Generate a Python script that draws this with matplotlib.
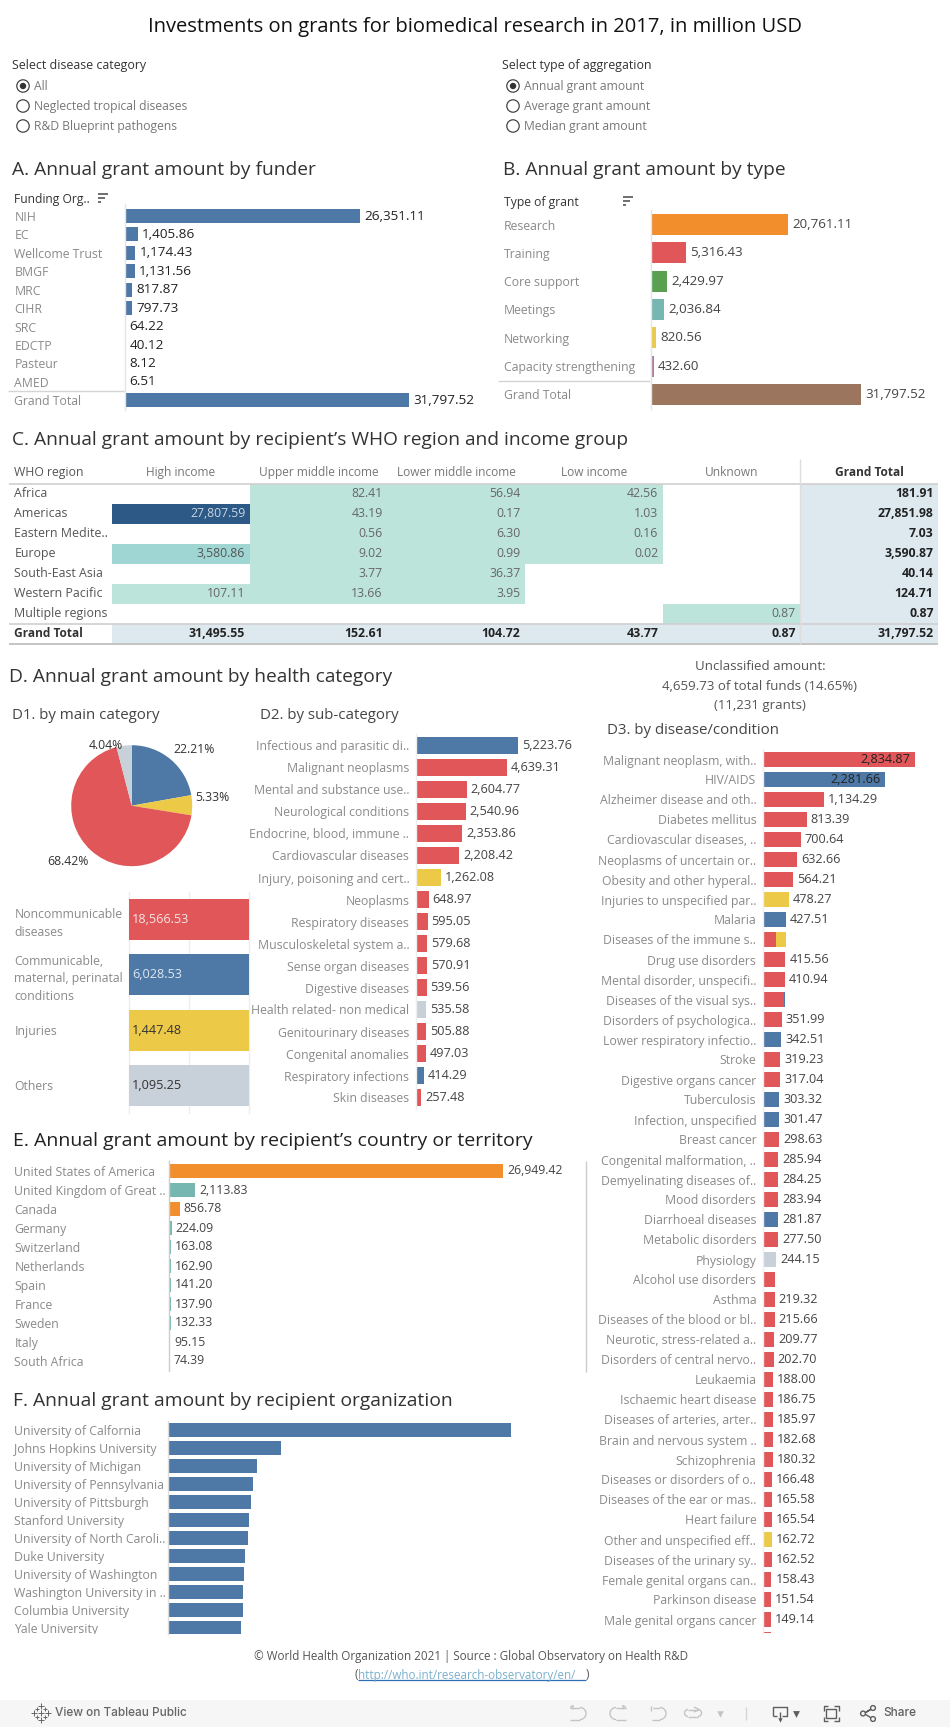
import numpy as np
import matplotlib
matplotlib.use("Agg")
import matplotlib.pyplot as plt
from matplotlib.patches import Circle, Rectangle
from matplotlib.transforms import Bbox

plt.rcParams['font.family'] = ['Open Sans', 'DejaVu Sans']

W, H = 950, 1727
BLUE, RED, YEL, GRY = '#4e79a7', '#e15759', '#edc948', '#c8d0d9'
ORG, TEAL, GRN, PUR, BRN = '#f28e2b', '#76b7b2', '#59a14f', '#b07aa1', '#9c755f'
LAB, DARK, VAL = '#8a8a8a', '#333333', '#444444'
FS = 8.8
PT = 0.72

funders = ['NIH', 'EC', 'Wellcome Trust', 'BMGF', 'MRC', 'CIHR', 'SRC', 'EDCTP', 'Pasteur', 'AMED', 'Grand Total']
funder_vals = [26351.11, 1405.86, 1174.43, 1131.56, 817.87, 797.73, 64.22, 40.12, 8.12, 6.51, 31797.52]

types = ['Research', 'Training', 'Core support', 'Meetings', 'Networking', 'Capacity strengthening', 'Grand Total']
type_vals = [20761.11, 5316.43, 2429.97, 2036.84, 820.56, 432.60, 31797.52]
type_cols = [ORG, RED, GRN, TEAL, YEL, PUR, BRN]

regions = ['Africa', 'Americas', 'Eastern Medite..', 'Europe', 'South-East Asia', 'Western Pacific', 'Multiple regions', 'Grand Total']
incomes = ['High income', 'Upper middle income', 'Lower middle income', 'Low income', 'Unknown', 'Grand Total']
high_inc = [None, 27807.59, None, 3580.86, None, 107.11, None, 31495.55]
upper_inc = [82.41, 43.19, 0.56, 9.02, 3.77, 13.66, None, 152.61]
lower_inc = [56.94, 0.17, 6.30, 0.99, 36.37, 3.95, None, 104.72]
low_inc = [42.56, 1.03, 0.16, 0.02, None, None, None, 43.77]
unk_inc = [None, None, None, None, None, None, 0.87, 0.87]
tot_inc = [181.91, 27851.98, 7.03, 3590.87, 40.14, 124.71, 0.87, 31797.52]

pie_pcts = [22.21, 5.33, 68.42, 4.04]
pie_cols = [BLUE, YEL, RED, GRY]
main_cats = ['Noncommunicable\ndiseases', 'Communicable,\nmaternal, perinatal\nconditions', 'Injuries', 'Others']
main_vals = [18566.53, 6028.53, 1447.48, 1095.25]
main_cols = [RED, BLUE, YEL, GRY]
main_txt = ['#f4e6e6', '#dfe7f0', DARK, DARK]

sub_cats = ['Infectious and parasitic di..', 'Malignant neoplasms', 'Mental and substance use..', 'Neurological conditions',
            'Endocrine, blood, immune ..', 'Cardiovascular diseases', 'Injury, poisoning and cert..', 'Neoplasms',
            'Respiratory diseases', 'Musculoskeletal system a..', 'Sense organ diseases', 'Digestive diseases',
            'Health related- non medical', 'Genitourinary diseases', 'Congenital anomalies', 'Respiratory infections', 'Skin diseases']
sub_vals = [5223.76, 4639.31, 2604.77, 2540.96, 2353.86, 2208.42, 1262.08, 648.97, 595.05, 579.68, 570.91, 539.56, 535.58, 505.88, 497.03, 414.29, 257.48]
sub_cols = [BLUE, RED, RED, RED, RED, RED, YEL, RED, RED, RED, RED, RED, GRY, RED, RED, BLUE, RED]

dis_cats = ['Malignant neoplasm, with..', 'HIV/AIDS', 'Alzheimer disease and oth..', 'Diabetes mellitus',
            'Cardiovascular diseases, ..', 'Neoplasms of uncertain or..', 'Obesity and other hyperal..', 'Injuries to unspecified par..',
            'Malaria', 'Diseases of the immune s..', 'Drug use disorders', 'Mental disorder, unspecifi..',
            'Diseases of the visual sys..', 'Disorders of psychologica..', 'Lower respiratory infectio..', 'Stroke',
            'Digestive organs cancer', 'Tuberculosis', 'Infection, unspecified', 'Breast cancer',
            'Congenital malformation, ..', 'Demyelinating diseases of..', 'Mood disorders', 'Diarrhoeal diseases',
            'Metabolic disorders', 'Physiology', 'Alcohol use disorders', 'Asthma',
            'Diseases of the blood or bl..', 'Neurotic, stress-related a..', 'Disorders of central nervo..', 'Leukaemia',
            'Ischaemic heart disease', 'Diseases of arteries, arter..', 'Brain and nervous system ..', 'Schizophrenia',
            'Diseases or disorders of o..', 'Diseases of the ear or mas..', 'Heart failure', 'Other and unspecified eff..',
            'Diseases of the urinary sy..', 'Female genital organs can..', 'Parkinson disease', 'Male genital organs cancer', '']
dis_vals = [2834.87, 2281.66, 1134.29, 813.39, 700.64, 632.66, 564.21, 478.27, 427.51, 245.0, 415.56, 410.94, 392.0, 351.99,
            342.51, 319.23, 317.04, 303.32, 301.47, 298.63, 285.94, 284.25, 283.94, 281.87, 277.50, 244.15, 232.0, 219.32,
            215.66, 209.77, 202.70, 188.00, 186.75, 185.97, 182.68, 180.32, 166.48, 165.58, 165.54, 162.72, 162.52, 158.43,
            151.54, 149.14, 146.0]
dis_cols = [RED, BLUE, RED, RED, RED, RED, RED, YEL, BLUE, RED, RED, RED, RED, RED, BLUE, RED, RED, BLUE, BLUE, RED,
            RED, RED, RED, BLUE, RED, GRY, RED, RED, RED, RED, RED, RED, RED, RED, RED, RED, RED, RED, RED, YEL, RED, RED, RED, RED, RED]
dis_stack = {'Diseases of the immune s..': (177.0, YEL), 'Diseases of the visual sys..': (24.0, BLUE)}
dis_nolabel = ['Diseases of the immune s..', 'Diseases of the visual sys..', 'Alcohol use disorders']

countries = ['United States of America', 'United Kingdom of Great ..', 'Canada', 'Germany', 'Switzerland', 'Netherlands',
             'Spain', 'France', 'Sweden', 'Italy', 'South Africa']
country_vals = [26949.42, 2113.83, 856.78, 224.09, 163.08, 162.90, 141.20, 137.90, 132.33, 95.15, 74.39]
country_cols = [ORG, TEAL, ORG, TEAL, TEAL, TEAL, TEAL, TEAL, TEAL, TEAL, TEAL]

orgs = ['University of Calfornia', 'Johns Hopkins University', 'University of Michigan', 'University of Pennsylvania',
        'University of Pittsburgh', 'Stanford University', 'University of North Caroli..', 'Duke University',
        'University of Washington', 'Washington University in ..', 'Columbia University', 'Yale University']
org_vals = [1372, 452, 357, 340, 333, 325, 321, 309, 304, 301, 301, 292]

fig = plt.figure(figsize=(W / 100, H / 100), dpi=100, facecolor='white')
ov = fig.add_axes([0, 0, 1, 1], zorder=10)
ov.set_xlim(0, W)
ov.set_ylim(H, 0)
ov.axis('off')
ov.patch.set_alpha(0)


def T(x, y, s, size=FS, color=LAB, ha='left', va='center', **kw):
    return ov.text(x, y, s, fontsize=size, color=color, ha=ha, va=va, **kw)


def L(xs, ys, color='#dddddd', lw=1.0, **kw):
    ov.plot(xs, ys, color=color, lw=lw, solid_capstyle='butt', **kw)


def px_ax(x0, x1, y0, y1):
    return fig.add_axes([x0 / W, 1 - y1 / H, (x1 - x0) / W, (y1 - y0) / H], facecolor='none')


def bars(x0, x_end, xmax, y_first, step, cats, vals, cols, frac, lab_x=None, lab_right=None, val_color=VAL,
         val_size=FS, y_end=None, labels=True, min_px=0.0, skip=(), spine='#e4e4e4', spine_top=None):
    n = len(cats)
    top = y_first - step / 2 if spine_top is None else spine_top
    bottom = y_first + (n - 0.5) * step if y_end is None else y_end
    ax = px_ax(x0, x_end, top, bottom)
    ppu = (x_end - x0) / xmax
    ys = np.arange(n)
    for i, (v, c) in enumerate(zip(vals, cols)):
        if v * ppu >= min_px:
            ax.barh(i, v, height=frac, color=c, linewidth=0)
    for s in ['top', 'right', 'bottom']:
        ax.spines[s].set_visible(False)
    ax.spines['left'].set_color(spine)
    ax.spines['left'].set_linewidth(1)
    ax.xaxis.set_visible(False)
    pad = (x0 - (lab_x if lab_x is not None else lab_right)) * PT
    ax.set_yticks(ys, cats)
    ax.set_xlim(0, xmax)
    ax.set_ylim((bottom - y_first) / step, (top - y_first) / step)
    ax.tick_params(axis='y', length=0, pad=pad, labelsize=FS, labelcolor=LAB)
    for t in ax.get_yticklabels():
        t.set_ha('left' if lab_x is not None else 'right')
        if y_end is not None:
            t.set_clip_box(Bbox([[0, H - y_end], [W, H]]))
            t.set_clip_on(True)
    if labels:
        for i, v in enumerate(vals):
            if cats[i] in skip or not cats[i]:
                continue
            ax.annotate(f'{v:,.2f}', (v, i), xytext=(4 * PT, 0), textcoords='offset points',
                        ha='left', va='center', fontsize=val_size, color=val_color)
    return ax


# ---------- header and selectors
T(475, 26.5, 'Investments on grants for biomedical research in 2017, in million USD', size=14.5, color='#111111', ha='center')


def radio(x, y, s, on=False):
    ov.add_patch(Circle((x, y), 6.2, fc='white', ec='#444444', lw=0.9))
    if on:
        ov.add_patch(Circle((x, y), 3.2, fc='#333333', ec='none'))
    T(x + 11.5, y, s, color='#777777', size=8.75)


T(12, 65.5, 'Select disease category', color=DARK, size=8.9)
for k, (s, on) in enumerate([('All', True), ('Neglected tropical diseases', False), ('R&D Blueprint pathogens', False)]):
    radio(23, 86 + 20 * k, s, on)
T(502, 65.5, 'Select type of aggregation', color=DARK, size=8.9)
for k, (s, on) in enumerate([('Annual grant amount', True), ('Average grant amount', False), ('Median grant amount', False)]):
    radio(513, 86 + 20 * k, s, on)

SEC = 13.8
T(12, 170, 'A. Annual grant amount by funder', size=SEC, color=DARK)
T(503, 170, 'B. Annual grant amount by type', size=SEC, color=DARK)


def sort_icon(x, y):
    for k, w in enumerate([10, 7, 3]):
        L([x, x + w], [y + 4 * k, y + 4 * k], color='#555555', lw=1.2)


# ---------- A
T(14.5, 199, 'Funding Org..', color=DARK, size=8.7)
sort_icon(98, 194)
ax = bars(125, 409, 31797.52, 216, 18.43, funders, funder_vals, [BLUE] * 11, 0.76, lab_x=14.5, val_color='#222222',
          val_size=9.7, min_px=2.0, spine_top=204)
L([8, 124], [391, 391], color='#d4d4d4')

# ---------- B
T(504, 202, 'Type of grant', color=DARK, size=8.7)
sort_icon(623, 197)
bars(651, 861, 31797.52, 224.5, 28.33, types, type_vals, type_cols, 0.74, lab_x=504, val_size=9.6, spine_top=210)
L([498, 650], [381, 381], color='#d4d4d4')

# ---------- C
T(12, 439.5, 'C. Annual grant amount by recipient\u2019s WHO region and income group', size=SEC, color=DARK)
table = [high_inc, upper_inc, lower_inc, low_inc, unk_inc, tot_inc]
tab = px_ax(112, 938, 483.5, 643.5)
tab.set_xlim(0, 6)
tab.set_ylim(8, 0)
tab.axis('off')


def shade(v):
    if v > 10000:
        return '#2c5985', '#c7d6e4'
    if v > 1000:
        return '#9fd5d2', '#555555'
    return '#bce4da', '#666666'


for c, col in enumerate(table):
    T(112 + (c + 0.5) * 137.67, 472, incomes[c], color=('#333333' if c == 5 else '#777777'), ha='center',
      fontweight=('bold' if c == 5 else 'normal'), size=8.6)
    for r, v in enumerate(col):
        total = (c == 5) or (r == 7)
        if total:
            tab.add_patch(Rectangle((c, r), 1, 1, fc='#dde8ef', ec='none'))
        elif v is not None:
            tab.add_patch(Rectangle((c, r), 1, 1, fc=shade(v)[0], ec='none'))
        if v is not None:
            tab.annotate(f'{v:,.2f}', (c + 1, r + 0.5), xytext=(-4.5 * PT, 0), textcoords='offset points', ha='right',
                         va='center', fontsize=8.8, color=('#222222' if total else shade(v)[1]),
                         fontweight=('bold' if total else 'normal'))
for r, name in enumerate(regions):
    T(14.5, 493.5 + 20 * r, name, color='#333333' if r == 7 else '#555555', fontweight='bold' if r == 7 else 'normal',
      size=8.6 if r == 7 else 8.9)
T(14.5, 472, 'WHO region', color='#555555')
L([8.5, 938], [483.5, 483.5], color='#cfcfcf', lw=1.2)
L([8.5, 938], [623.5, 623.5], color='#cfcfcf', lw=1.2)
L([8.5, 938], [643.5, 643.5], color='#c4c4c4', lw=1.4)
L([800, 800], [459, 643.5], color='#dddddd')

# ---------- D
T(9, 677, 'D. Annual grant amount by health category', size=SEC, color=DARK)
T(12.5, 715, 'D1. by main category', size=10.85, color='#444444')
T(259.6, 715, 'D2. by sub-category', size=10.85, color='#444444')
pax = px_ax(131.7 - 60.5, 131.7 + 60.5, 805.7 - 60.5, 805.7 + 60.5)
pax.pie(pie_pcts, colors=pie_cols, startangle=90, counterclock=False, radius=1.0, wedgeprops={'linewidth': 0})
pax.set_xlim(-1, 1)
pax.set_ylim(-1, 1)
for (x, y), p in zip([(193.7, 749.7), (212, 797.7), (67.7, 861.7), (105.7, 745.7)], pie_pcts):
    T(x, y, f'{p:.2f}%', ha='center', color=DARK)

mx = px_ax(129, 249, 892, 1112.6)
for x in [0, 0.5, 1]:
    mx.axvline(x, color='#eeeeee', lw=1, zorder=0, clip_on=False)
for i, (v, c) in enumerate(zip(main_vals, main_cols)):
    mx.barh(i, v / v, height=41 / 55.33, color=c, linewidth=0, zorder=2)
    mx.annotate(f'{v:,.2f}', (0, i), xytext=(3 * PT, 0), textcoords='offset points', ha='left', va='center',
                fontsize=FS + 0.3, color=main_txt[i], zorder=3)
mx.set_xticks([])
for s in ['top', 'bottom', 'right', 'left']:
    mx.spines[s].set_visible(False)
mx.set_yticks(range(4), main_cats)
mx.set_xlim(0, 1)
mx.set_ylim((1112.6 - 919.5) / 55.33, (892 - 919.5) / 55.33)
mx.tick_params(axis='y', length=0, pad=(129 - 14.3) * PT, labelsize=FS, labelcolor=LAB)
for t in mx.get_yticklabels():
    t.set_ha('left')
    t.set_linespacing(1.45)

bars(416, 518, 5223.76, 745.5, 22, sub_cats, sub_vals, sub_cols, 17 / 22, lab_right=409.3, val_size=FS + 0.3, spine='#eeeeee')

T(760, 667, 'Unclassified amount:', ha='center', color='#555555', size=9.5)
T(760, 686, '4,659.73 of total funds (14.65%)', ha='center', color='#555555', size=9.5)
T(760, 705, '(11,231 grants)', ha='center', color='#555555', size=9.5)
T(606.7, 730, 'D3. by disease/condition', size=10.85, color='#444444')

dax = bars(763, 915, 2834.87, 759.5, 20, dis_cats, dis_vals, dis_cols, 0.75, lab_right=756.3, y_end=1633,
           labels=False, spine='#eeeeee', spine_top=749)
for name, (extra, col) in dis_stack.items():
    i = dis_cats.index(name)
    dax.barh(i, extra, left=dis_vals[i], height=0.75, color=col, linewidth=0)
for i, (name, v) in enumerate(zip(dis_cats, dis_vals)):
    if name in dis_nolabel or not name:
        continue
    inside = i < 2
    dax.annotate(f'{v:,.2f}', (v, i), xytext=((-5 if inside else 4) * PT, 0), textcoords='offset points',
                 ha='right' if inside else 'left', va='center', fontsize=FS + 0.3, color='#222222' if inside else VAL)

# ---------- E
T(12.8, 1141.5, 'E. Annual grant amount by recipient\u2019s country or territory', size=14.0, color='#222222')
bars(169, 503, 26949.42, 1171, 19, countries, country_vals, country_cols, 14 / 19, lab_x=14.3, min_px=1.5,
     spine='#cccccc', spine_top=1161)
L([586, 586], [1160.6, 1372], color='#cccccc')

# ---------- F
T(12.8, 1401.5, 'F. Annual grant amount by recipient organization', size=13.9, color=DARK)
bars(167.8, 511, 1372, 1430, 18, orgs, org_vals, [BLUE] * 12, 14 / 18, lab_x=14.3, y_end=1634, labels=False,
     spine='#dddddd', spine_top=1421)

# ---------- footer
T(471, 1656.7, '\u00a9 World Health Organization 2021 | Source : Global Observatory on Health R&D', ha='center',
  color='#555555', size=8.35)
T(354.4, 1675, '(', color='#555555', size=8.35)
T(358, 1675, 'http://who.int/research-observatory/en/', color='#7ab0cc', size=8.35)
T(586, 1675, ')', color='#555555', size=8.35)
L([358, 586], [1680.3, 1680.3], color='#2f6fb5', lw=0.9)

# ---------- toolbar
ov.add_patch(Rectangle((0, 1699.5), W, H - 1699.5, fc='#f6f6f6', ec='none', zorder=0))
T(55, 1713.5, 'View on Tableau Public', color='#666666', size=8.5, fontweight='medium', family='Inter')
for (dx, dy, sz) in [(0, 0, 16), (0, -7, 16), (0, 7, 16), (-7, 0, 16), (7, 0, 16), (-4, -4, 7), (4, -4, 7), (-4, 4, 7), (4, 4, 7)]:
    ov.scatter(41 + dx, 1713 + dy, s=sz, marker='+', color='#666666', linewidths=0.7)

OFF, ON = '#c4c4c4', '#5e5e5e'


def curve(cx, cy, rx, ry, a0, a1, color=OFF):
    t = np.radians(np.linspace(a0, a1, 30))
    L(cx + rx * np.cos(t), cy + ry * np.sin(t), color=color, lw=1.0)


# undo / redo / revert / refresh
L([570, 580], [1707.5, 1707.5], color=OFF)
curve(580, 1713.5, 6, 6, -90, 90)
L([570, 580], [1719.5, 1719.5], color=OFF)
L([570, 573, 573], [1707.5, 1705.5, 1709.5], color=OFF)
L([626, 616], [1707.5, 1707.5], color=OFF)
curve(616, 1713.5, 6, 6, 90, 270)
L([626, 616], [1719.5, 1719.5], color=OFF)
L([626, 623, 623], [1707.5, 1705.5, 1709.5], color=OFF)
L([650.5, 650.5], [1705.5, 1711], color=OFF)
L([653, 660], [1707.5, 1707.5], color=OFF)
curve(660, 1713.5, 6, 6, -90, 90)
L([652, 660], [1719.5, 1719.5], color=OFF)
L([688, 698], [1709.5, 1709.5], color=OFF)
curve(698, 1713, 3.5, 3.5, -90, 90)
L([688, 698], [1716.5, 1716.5], color=OFF)
curve(688, 1713, 3.5, 3.5, 90, 270)
L([694, 699, 694], [1707, 1709.5, 1712], color=OFF)
ov.scatter(720, 1714, s=22, marker='v', color=OFF, linewidths=0)
L([745.5, 745.5], [1707, 1720], color='#d4d4d4')
# download
L([773, 773, 787, 787, 782], [1716, 1706.5, 1706.5, 1716, 1716], color=ON)
L([773, 777], [1716, 1716], color=ON)
L([779.5, 779.5], [1712, 1719], color=ON)
ov.scatter(779.5, 1719.5, s=10, marker='v', color=ON, linewidths=0)
ov.scatter(795.7, 1714, s=24, marker='v', color=ON, linewidths=0)
# fullscreen
for sx, sy in [(-1, -1), (1, -1), (-1, 1), (1, 1)]:
    L([831 + sx * 7.5, 831 + sx * 7.5, 831 + sx * 3], [1713.5 + sy * 3, 1713.5 + sy * 7.5, 1713.5 + sy * 7.5], color=ON)
ov.add_patch(Rectangle((826, 1709), 10, 9, fc='none', ec=ON, lw=1))
# share
L([864, 873, 864, 873], [1713.5, 1708, 1713.5, 1719], color=ON)
for (x, y) in [(863, 1713.5), (873, 1708), (873, 1719)]:
    ov.add_patch(Circle((x, y), 2.4, fc='#f6f6f6', ec=ON, lw=1, zorder=5))
T(883, 1713.5, 'Share', color='#5e5e5e', size=8.5, fontweight='medium', family='Inter')

fig.savefig('out.png', dpi=100)
